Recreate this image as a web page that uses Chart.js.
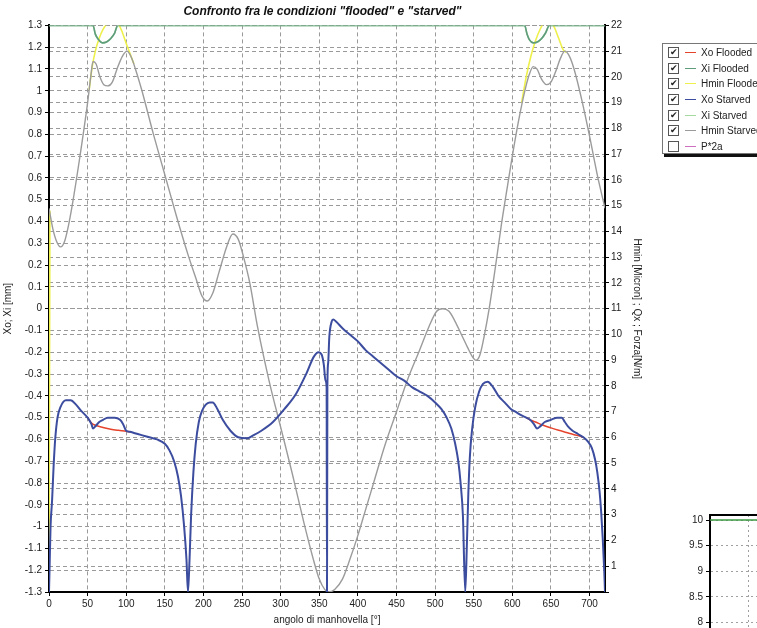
<!DOCTYPE html>
<html>
<head>
<meta charset="utf-8">
<script src="https://cdn.jsdelivr.net/npm/chart.js@4.4.0/dist/chart.umd.min.js"></script>
<style>
  body { margin:0; width:757px; height:628px; overflow:hidden; background:#fff; position:relative;
         font-family:"Liberation Sans", Arial, sans-serif; }
  #main { position:absolute; left:0; top:0; }
  #inset { position:absolute; left:650px; top:505px; }
  #legend { position:absolute; left:662px; top:43px; width:120px; height:111px; background:#fff;
            border:1px solid #777; box-shadow:2px 3px 0 #111; padding-top:1px; box-sizing:border-box; }
  .row { height:15.6px; display:flex; align-items:center; font-size:10px; color:#222; white-space:nowrap; }
  .chk { width:9px; height:9px; border:1px solid #555; margin-left:5px; font-size:9px; line-height:9px;
         text-align:center; color:#222; background:#fff; }
  .smp { width:11px; height:1px; margin:0 5px 0 6px; }
</style>
</head>
<body>
<canvas id="main" width="757" height="628"></canvas>
<canvas id="inset" width="620" height="180"></canvas>
<div id="legend"></div>
<script>
// --- dati ---
const xTicks = [0, 50, 100, 150, 200, 250, 300, 350, 400, 450, 500, 550, 600, 650, 700];

const seriesNames = ["Xo Flooded", "Xi Flooded", "Hmin Flooded", "Xo Starved", "Xi Starved", "Hmin Starved", "P*2a"];
const seriesChecked = [true, true, true, true, true, true, false];

// Xo Starved (blu) [mm]
const xoStarvedDeg = [0,1,2,4,6,8,11,15,22,28,35,42,50,55,57,60,65,70,76,85,92,96,100,105,110,120,130,140,150,156,162,167,171,175,178,180,
  182,184,187,190,194,198,203,208,212,218,225,235,245,256,265,275,290,305,320,333,343,349,353,356,358,359.5,360,360.5,361.5,363,366,368,372,
  380,390,400,410,420,430,440,450,460,470,480,490,500,508,515,521,526,530,533,536,539,541,543,545,548,552,557,562,568,575,582,590,598,605,
  612,618,623,628,632,636,642,650,658,664,668,672,678,685,692,698,703,707,710,713,715,717,719,720];
const xoStarvedVal = [-1.30,-1.15,-1.0,-0.88,-0.72,-0.60,-0.50,-0.45,-0.42,-0.42,-0.44,-0.47,-0.50,-0.53,-0.55,-0.54,-0.52,-0.51,-0.50,-0.50,-0.51,-0.53,-0.56,-0.565,-0.57,-0.58,-0.59,-0.60,-0.62,-0.65,-0.70,-0.77,-0.86,-1.00,-1.15,-1.30,
  -1.15,-0.95,-0.75,-0.62,-0.52,-0.47,-0.44,-0.43,-0.43,-0.46,-0.51,-0.56,-0.59,-0.595,-0.58,-0.56,-0.52,-0.46,-0.39,-0.30,-0.22,-0.20,-0.21,-0.26,-0.33,-0.36,-1.30,-0.36,-0.25,-0.13,-0.06,-0.05,-0.06,
  -0.09,-0.12,-0.15,-0.19,-0.22,-0.25,-0.28,-0.31,-0.33,-0.36,-0.38,-0.40,-0.43,-0.46,-0.50,-0.55,-0.62,-0.70,-0.80,-0.95,-1.30,-1.10,-0.85,-0.68,-0.55,-0.45,-0.38,-0.345,-0.335,-0.36,-0.40,-0.43,-0.46,-0.475,
  -0.49,-0.50,-0.51,-0.53,-0.55,-0.54,-0.52,-0.51,-0.50,-0.50,-0.52,-0.54,-0.56,-0.575,-0.59,-0.61,-0.64,-0.69,-0.75,-0.84,-0.93,-1.05,-1.20,-1.30];

// Xo Flooded (rosso): visibile solo dove si stacca dal blu
const xoFloodedDeg = [50,55,60,70,80,90,100,106, null, 618,623,630,640,650,660,670,680,688,692];
const xoFloodedVal = [-0.50,-0.525,-0.535,-0.545,-0.553,-0.558,-0.562,-0.566, null, -0.50,-0.51,-0.52,-0.535,-0.547,-0.558,-0.568,-0.578,-0.585,-0.59];

// Xi (verde) [mm], tagliato a 1.3
const xiDeg = [0,57,60,64,69,75,80,85,89,616,619,622,627,633,638,643,648,720];
const xiVal = [1.3,1.3,1.26,1.235,1.22,1.225,1.24,1.265,1.3,1.3,1.26,1.235,1.22,1.225,1.24,1.265,1.3,1.3];

// Hmin Starved (grigio) [micron]
const hminStarvedDeg = [0,5,10,15,20,25,30,40,50,54,57,61,66,71,76,82,88,95,101,106,112,120,135,150,165,180,190,198,205,212,220,230,238,245,252,260,
  270,285,300,315,330,342,350,357,362,370,380,390,400,410,420,435,450,465,480,492,502,510,518,526,534,542,548,553,558,564,570,578,586,595,605,
  615,622,627,632,638,644,650,656,662,668,674,680,690,700,710,720];
const hminStarvedVal = [14.9,14.1,13.6,13.4,13.6,14.2,15.0,16.9,19.0,20.0,20.6,20.5,20.0,19.7,19.65,19.8,20.3,20.8,21.0,20.8,20.3,19.5,17.8,16.2,14.6,13.1,12.2,11.5,11.3,11.6,12.4,13.4,13.9,13.7,13.0,12.0,
  10.3,8.2,6.4,4.6,2.7,1.3,0.5,0.1,0.0,0.1,0.5,1.3,2.2,3.2,4.2,5.7,7.0,8.3,9.4,10.3,10.9,11.0,10.9,10.5,10.0,9.5,9.15,9.0,9.2,10.0,11.0,12.6,14.3,16.0,17.8,
  19.3,20.1,20.4,20.3,19.9,19.7,19.8,20.2,20.7,21.0,20.8,20.3,19.1,17.7,16.2,14.9];

// Hmin Flooded (giallo): visibile solo dove si stacca dal grigio
const hminFloodedDeg = [0,1.2, null, 52,56,60,65,70,76,82,88,94,100,105,110, null, 612,618,624,630,636,642,648,654,660,666,670];
const hminFloodedVal = [0.5,14.8, null, 19.5,20.4,21.0,21.5,21.85,22.1,22.25,22.15,21.8,21.3,20.9,20.5, null, 19.0,20.0,20.8,21.4,21.85,22.15,22.2,21.95,21.5,21.05,20.95];

// riquadro in basso a destra
const insetTicks = [8, 8.5, 9, 9.5, 10];
const insetDeg = [0, 720];
const insetVal = [10, 10];

function zip(xs, ys) {
    return xs.map((x, i) => ({ x: x === null ? NaN : x, y: ys[i] }));
}

const colors = {
    "Xo Flooded": "#e5432c",
    "Xi Flooded": "#5f9c7c",
    "Hmin Flooded": "#eef04c",
    "Xo Starved": "#3c4c9e",
    "Xi Starved": "#a6d9a0",
    "Hmin Starved": "#9b9b9b",
    "P*2a": "#cf6fc0",
};

const gridDash = [4, 3];
const tickFont = { family: "Liberation Sans", size: 10 };

const datasets = [
    { label: "Xo Starved", data: zip(xoStarvedDeg, xoStarvedVal), yAxisID: "y", borderColor: colors["Xo Starved"], borderWidth: 2, order: 0 },
    { label: "Xo Flooded", data: zip(xoFloodedDeg, xoFloodedVal), yAxisID: "y", borderColor: colors["Xo Flooded"], borderWidth: 1.5, order: 1 },
    { label: "Hmin Starved", data: zip(hminStarvedDeg, hminStarvedVal), yAxisID: "y2", borderColor: colors["Hmin Starved"], borderWidth: 1.4, order: 2 },
    { label: "Xi Flooded", data: zip(xiDeg, xiVal), yAxisID: "y", borderColor: colors["Xi Flooded"], borderWidth: 1.6, order: 3 },
    { label: "Hmin Flooded", data: zip(hminFloodedDeg, hminFloodedVal), yAxisID: "y2", borderColor: colors["Hmin Flooded"], borderWidth: 1.6, order: 4 },
    { label: "Xi Starved", data: zip(xiDeg, xiVal), yAxisID: "y", borderColor: colors["Xi Starved"], borderWidth: 1.6, order: 5 },
    { label: "P*2a", data: [], yAxisID: "y2", borderColor: colors["P*2a"], hidden: true, order: 6 },
];

new Chart(document.getElementById("main").getContext("2d"), {
    type: "line",
    data: { datasets: datasets },
    options: {
        responsive: false,
        animation: false,
        spanGaps: false,
        layout: { padding: { left: 0, right: 112, top: 0, bottom: 0 } },
        elements: {
            point: { radius: 0 },
            line: { cubicInterpolationMode: "monotone", fill: false },
        },
        plugins: {
            legend: { display: false },
            tooltip: { enabled: false },
            title: {
                display: true,
                text: 'Confronto fra le condizioni "flooded" e "starved"',
                color: "#111",
                font: { family: "Liberation Sans", size: 12, weight: "bold", style: "italic" },
                padding: { top: 4, bottom: 7 },
            },
        },
        scales: {
            x: {
                type: "linear",
                min: 0,
                max: 720,
                afterFit: (s) => { s.height = 36; },
                afterBuildTicks: (s) => { s.ticks = xTicks.map((v) => ({ value: v })); },
                ticks: { autoSkip: false, maxRotation: 0, color: "#222", font: tickFont, padding: 2 },
                grid: { color: "#9a9a9a", tickLength: 4, tickColor: "#000" },
                border: { display: true, color: "#000", width: 2, dash: gridDash },
                title: { display: true, text: "angolo di manhovella [°]", color: "#222", font: tickFont, padding: { top: 0, bottom: 2 } },
            },
            y: {
                position: "left",
                min: -1.3,
                max: 1.3,
                afterFit: (s) => { s.width = 49; },
                ticks: {
                    stepSize: 0.1, autoSkip: false, color: "#222", font: tickFont, padding: 3,
                    callback: (v) => { const r = Math.round(v * 10) / 10; return r === 0 ? "0" : String(r); },
                },
                grid: { color: "#9a9a9a", tickLength: 4, tickColor: "#000" },
                border: { display: true, color: "#000", width: 2, dash: gridDash },
                title: { display: true, text: "Xo; Xi [mm]", color: "#222", font: tickFont, padding: { top: 2, bottom: 0 } },
            },
            y2: {
                position: "right",
                min: 0,
                max: 22,
                afterFit: (s) => { s.width = 40; },
                ticks: {
                    stepSize: 1, autoSkip: false, color: "#222", font: tickFont, padding: 2,
                    callback: (v) => (v === 0 ? "" : v),
                },
                grid: { color: "#9a9a9a", tickLength: 4, tickColor: "#000" },
                border: { display: true, color: "#000", width: 2, dash: gridDash },
                title: { display: true, text: "Hmin [Micron] ; Qx ; Forza[N/m]", color: "#222", font: tickFont, padding: { top: 2, bottom: 2 } },
            },
        },
    },
});

// bordo superiore del riquadro piccolo
const frameTop = {
    id: "frameTop",
    afterDraw(c) {
        const a = c.chartArea, g = c.ctx;
        g.save();
        g.strokeStyle = "#000";
        g.lineWidth = 2;
        g.beginPath();
        g.moveTo(a.left - 1, a.top);
        g.lineTo(a.right, a.top);
        g.stroke();
        g.restore();
    },
};

new Chart(document.getElementById("inset").getContext("2d"), {
    type: "line",
    data: {
        datasets: [{ data: zip(insetDeg, insetVal), borderColor: "#3f9a45", borderWidth: 1.5 }],
    },
    options: {
        responsive: false,
        animation: false,
        layout: { padding: { left: 0, right: 0, top: 10, bottom: 0 } },
        elements: { point: { radius: 0 } },
        plugins: { legend: { display: false }, tooltip: { enabled: false } },
        scales: {
            x: {
                type: "linear", min: 0, max: 720,
                afterFit: (s) => { s.height = 0; },
                ticks: { display: false, stepSize: 50 },
                grid: { color: "#a0a0a0", drawTicks: false },
                border: { display: false, dash: [2, 3] },
            },
            y: {
                min: 6.95, max: 10.1,
                afterFit: (s) => { s.width = 60; },
                afterBuildTicks: (s) => { s.ticks = insetTicks.map((v) => ({ value: v })); },
                ticks: { color: "#222", font: tickFont, padding: 3, callback: (v) => String(v) },
                grid: { color: "#a0a0a0", tickLength: 4, tickColor: "#000" },
                border: { display: true, color: "#000", width: 2, dash: [2, 3] },
            },
        },
    },
    plugins: [frameTop],
});

// legenda con caselle
const legend = document.getElementById("legend");
seriesNames.forEach((name, i) => {
    const row = document.createElement("div");
    row.className = "row";
    const chk = document.createElement("div");
    chk.className = "chk";
    chk.textContent = seriesChecked[i] ? "✔" : "";
    const smp = document.createElement("div");
    smp.className = "smp";
    smp.style.background = colors[name];
    const txt = document.createElement("span");
    txt.textContent = name;
    row.appendChild(chk);
    row.appendChild(smp);
    row.appendChild(txt);
    legend.appendChild(row);
});
</script>
</body>
</html>
